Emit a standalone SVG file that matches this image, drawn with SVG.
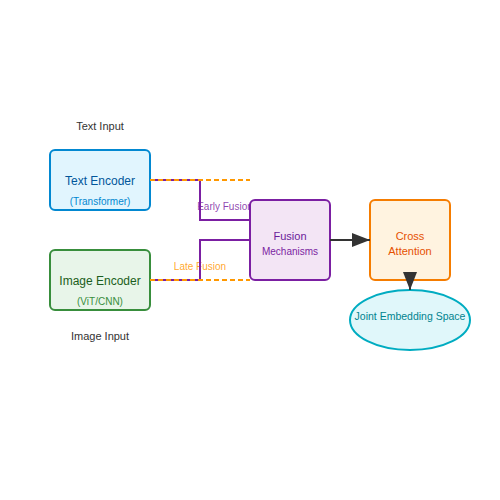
<svg xmlns="http://www.w3.org/2000/svg" width="500" height="500" viewBox="0 0 500 500">
<defs>
<marker id="arrow" markerUnits="userSpaceOnUse" markerWidth="18" markerHeight="14" refX="18" refY="7" orient="auto" viewBox="0 0 18 14">
<path d="M0,0 L18,7 L0,14 Z" fill="#333333"/>
</marker>
</defs>
<style>
text { font-family: "Liberation Sans", Arial, sans-serif; text-anchor: middle; }
.node { stroke-width: 2; }
.lbl { font-size: 11px; fill: #333333; }
.purple { fill: none; stroke: #7b1fa2; stroke-width: 2; }
.orange { fill: none; stroke: #ff9800; stroke-width: 2; stroke-dasharray: 5,3; }
.arrow { fill: none; stroke: #333333; stroke-width: 2; marker-end: url(#arrow); }
</style>
<rect width="500" height="500" fill="#ffffff"/>
<g id="labels">
<text class="lbl" x="100" y="130">Text Input</text>
<text class="lbl" x="100" y="340">Image Input</text>
<text x="225" y="210" font-size="10" fill="#7b1fa2" fill-opacity="0.85">Early Fusion</text>
<text x="200" y="270" font-size="10" fill="#ff9800" fill-opacity="0.85">Late Fusion</text>
</g>
<g id="text-encoder">
<rect class="node" x="50" y="150" width="100" height="60" rx="5" fill="#e1f5fe" stroke="#0288d1"/>
<text x="100" y="185" font-size="12" fill="#01579b">Text Encoder</text>
<text x="100" y="205" font-size="10" fill="#0288d1">(Transformer)</text>
</g>
<g id="image-encoder">
<rect class="node" x="50" y="250" width="100" height="60" rx="5" fill="#e8f5e9" stroke="#388e3c"/>
<text x="100" y="285" font-size="12" fill="#1b5e20">Image Encoder</text>
<text x="100" y="305" font-size="10" fill="#388e3c">(ViT/CNN)</text>
</g>
<g id="fusion">
<rect class="node" x="250" y="200" width="80" height="80" rx="5" fill="#f3e5f5" stroke="#7b1fa2"/>
<text x="290" y="240" font-size="11" fill="#6a1b9a">Fusion</text>
<text x="290" y="255" font-size="10" fill="#7b1fa2">Mechanisms</text>
</g>
<g id="cross-attention">
<rect class="node" x="370" y="200" width="80" height="80" rx="5" fill="#fff3e0" stroke="#f57c00"/>
<text x="410" y="240" font-size="11" fill="#e65100">Cross</text>
<text x="410" y="255" font-size="11" fill="#e65100">Attention</text>
</g>
<g id="joint-embedding">
<ellipse class="node" cx="410" cy="320" rx="60" ry="30" fill="#e0f7fa" stroke="#00acc1"/>
<text x="410" y="320" font-size="10.5" fill="#00838f">Joint Embedding Space</text>
</g>
<g id="connectors">
<path class="purple" d="M150,180 H200 V220 H249"/>
<path class="purple" d="M150,280 H200 V240 H249"/>
<path class="orange" d="M150,180 H250"/>
<path class="orange" d="M150,280 H250"/>
<path class="arrow" d="M330,240 H370"/>
<path class="arrow" d="M410,280 V290"/>
</g>
</svg>
